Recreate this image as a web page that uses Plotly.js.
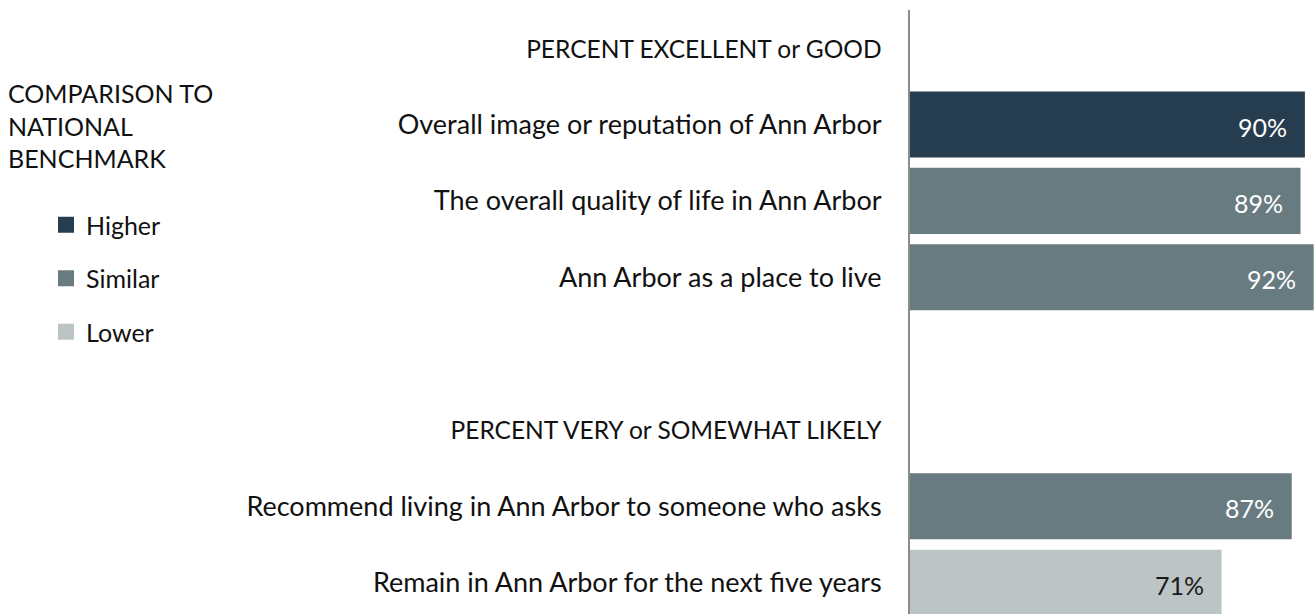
<!DOCTYPE html>
<html>
<head>
<meta charset="utf-8">
<script src="https://cdn.plot.ly/plotly-3.0.1.min.js"></script>
<style>html,body{margin:0;padding:0;background:#fff;}#chart{width:1315px;height:614px;}</style>
</head>
<body>
<div id="chart"></div>
<script>
// Row order on the category axis (headers and a blank spacer included)
const rowOrder = [
  "PERCENT EXCELLENT or GOOD",
  "Overall image or reputation of Ann Arbor",
  "The overall quality of life in Ann Arbor",
  "Ann Arbor as a place to live",
  " ",
  "PERCENT VERY or SOMEWHAT LIKELY",
  "Recommend living in Ann Arbor to someone who asks",
  "Remain in Ann Arbor for the next five years"
];
const headerRows = ["PERCENT EXCELLENT or GOOD", "PERCENT VERY or SOMEWHAT LIKELY"];
// Bars
const barLabels = [
  "Overall image or reputation of Ann Arbor",
  "The overall quality of life in Ann Arbor",
  "Ann Arbor as a place to live",
  "Recommend living in Ann Arbor to someone who asks",
  "Remain in Ann Arbor for the next five years"
];
const barValues = [90, 89, 92, 87, 71];
const benchmark = ["Higher", "Similar", "Similar", "Similar", "Lower"];
const benchmarkLevels = ["Higher", "Similar", "Lower"];
const legendTitle = "COMPARISON TO<br>NATIONAL<br>BENCHMARK";

const colorMap = {Higher: "#263D4F", Similar: "#687B81", Lower: "#BCC4C6"};
const textColorMap = {Higher: "#FFFFFF", Similar: "#FFFFFF", Lower: "#1A1A1A"};
const FONT = "Lato, 'Open Sans', sans-serif";

const traces = [{
  type: "bar",
  orientation: "h",
  x: barValues,
  y: barLabels,
  marker: {color: benchmark.map(b => colorMap[b])},
  width: 0.865,
  showlegend: false,
  hoverinfo: "x+y"
}];
benchmarkLevels.forEach((lvl) => {
  traces.push({
    type: "scatter",
    mode: "markers",
    x: [null], y: [null],
    name: lvl,
    legendgroup: lvl,
    marker: {symbol: "square", size: 16, color: colorMap[lvl]},
    showlegend: true
  });
});

const annotations = barLabels.map((lab, i) => ({
  x: barValues[i], y: lab, xref: "x", yref: "y",
  text: barValues[i] + "%",
  showarrow: false, xanchor: "right", xshift: -16, yshift: -2,
  font: {family: FONT, size: 25, color: textColorMap[benchmark[i]]}
}));
annotations.push({
  x: 6 / 1315, y: 1 - (76 - 10) / 604, xref: "paper", yref: "paper",
  xanchor: "left", yanchor: "top", align: "left",
  text: legendTitle, showarrow: false,
  font: {family: FONT, size: 25, color: "#111"}
});

const tickText = rowOrder.map(r => headerRows.includes(r)
  ? '<span style="font-size:24.5px">' + r + '</span>' : r);

const layout = {
  width: 1315, height: 614,
  margin: {l: 0, r: 0, t: 10, b: 0, pad: 0},
  paper_bgcolor: "#fff", plot_bgcolor: "#fff",
  font: {family: FONT, size: 25, color: "#111"},
  showlegend: true,
  legend: {
    x: 46 / 1315, xanchor: "left",
    y: 1 - (202 - 10) / 604, yanchor: "top",
    traceorder: "grouped", tracegroupgap: 18,
    font: {family: FONT, size: 25, color: "#111"},
    itemwidth: 30, bgcolor: "rgba(0,0,0,0)"
  },
  xaxis: {
    domain: [910 / 1315, 1], range: [0, 92.3],
    visible: false, fixedrange: true
  },
  yaxis: {
    type: "category", categoryorder: "array", categoryarray: rowOrder,
    tickmode: "array", tickvals: rowOrder, ticktext: tickText,
    range: [7.41, -0.5],
    showline: true, linecolor: "#8C8C8C", linewidth: 2,
    showgrid: false, zeroline: false, ticks: "",
    ticklabelstandoff: 21,
    tickfont: {family: FONT, size: 27, color: "#111"}
  },
  annotations: annotations,
  bargap: 0.13
};

Plotly.newPlot("chart", traces, layout, {displayModeBar: false, staticPlot: true});
</script>
</body>
</html>
